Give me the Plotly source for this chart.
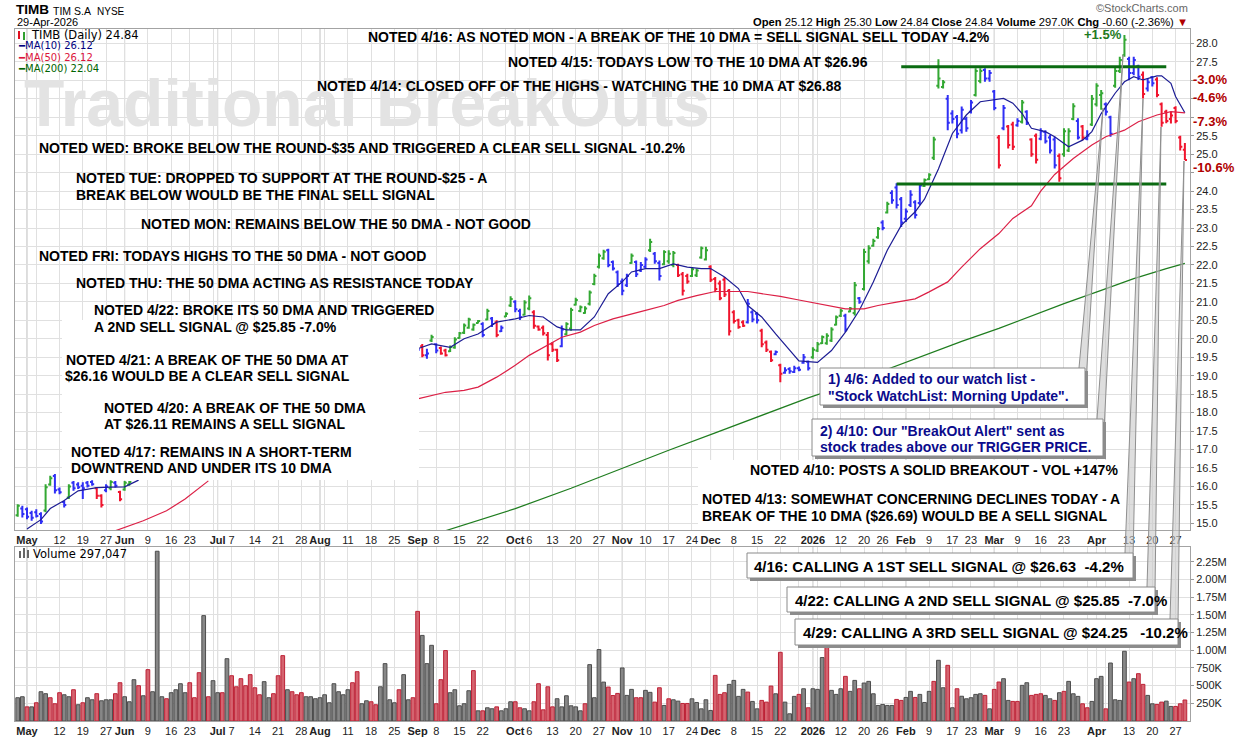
import pandas as pd
import plotly.graph_objects as go

# ---------------- calendar: the x axis runs in trading days, like StockCharts
HOLIDAYS = ['2025-05-26', '2025-06-19', '2025-07-04', '2025-09-01', '2025-11-27',
            '2025-12-25', '2026-01-01', '2026-01-19', '2026-02-16', '2026-04-03']
CAL = [d.strftime('%Y-%m-%d') for d in pd.bdate_range('2025-04-29', '2026-04-29')
       if d.strftime('%Y-%m-%d') not in HOLIDAYS]
DAY = {d: i for i, d in enumerate(CAL)}

tick_dates = ['2025-05-01', '2025-05-05', '2025-05-12', '2025-05-19', '2025-05-27',
              '2025-06-02', '2025-06-09', '2025-06-16', '2025-06-23', '2025-06-30',
              '2025-07-01', '2025-07-07', '2025-07-14', '2025-07-21', '2025-07-28',
              '2025-08-01', '2025-08-04', '2025-08-11', '2025-08-18', '2025-08-25',
              '2025-09-02', '2025-09-08', '2025-09-15', '2025-09-22', '2025-09-29',
              '2025-10-01', '2025-10-06', '2025-10-13', '2025-10-20', '2025-10-27',
              '2025-11-03', '2025-11-10', '2025-11-17', '2025-11-24',
              '2025-12-01', '2025-12-08', '2025-12-15', '2025-12-22', '2025-12-29',
              '2026-01-02', '2026-01-05', '2026-01-12', '2026-01-20', '2026-01-26',
              '2026-02-02', '2026-02-09', '2026-02-17', '2026-02-23',
              '2026-03-02', '2026-03-09', '2026-03-16', '2026-03-23', '2026-03-30',
              '2026-04-01', '2026-04-06', '2026-04-13', '2026-04-20', '2026-04-27']
tick_text = ['<b>May</b>', '', '12', '19', '27',
             '<b>Jun</b>', '9', '16', '23', '',
             '<b>Jul</b>', '7', '14', '21', '28',
             '<b>Aug</b>', '', '11', '18', '25',
             '<b>Sep</b>', '8', '15', '22', '',
             '<b>Oct</b>', '6', '13', '20', '27',
             '<b>Nov</b>', '10', '17', '24',
             '<b>Dec</b>', '8', '15', '22', '',
             '<b>2026</b>', '', '12', '20', '26',
             '<b>Feb</b>', '9', '17', '23',
             '<b>Mar</b>', '9', '16', '23', '',
             '<b>Apr</b>', '', '13', '20', '27']

# ---------------- daily bars, first visible stretch (from 29-Apr-2025)
start_a = '2025-04-29'
col_a = 'gbbbbbggbbbgbbbbbrrbgbrgg'
open_a = [15.22, 15.40, 15.38, 15.28, 15.30, 15.25, 15.35, 16.05, 16.28, 15.92, 15.58, 15.70, 16.10,
          16.05, 16.02, 16.10, 16.12, 15.95, 15.75, 15.90, 15.95, 16.10, 15.85, 15.92, 16.05]
high_a = [15.52, 15.48, 15.43, 15.34, 15.38, 15.30, 16.06, 16.29, 16.34, 15.97, 15.61, 16.06, 16.15,
          16.11, 16.11, 16.15, 16.17, 15.97, 15.79, 16.06, 16.17, 16.15, 15.88, 16.15, 16.15]
low_a = [15.18, 15.16, 15.11, 15.07, 15.16, 14.98, 15.30, 16.02, 15.81, 15.79, 15.43, 15.66, 15.88,
         15.93, 15.66, 15.97, 16.02, 15.66, 15.43, 15.84, 15.90, 15.97, 15.60, 15.88, 16.02]
close_a = [15.48, 15.25, 15.18, 15.15, 15.20, 15.05, 15.98, 16.22, 15.90, 15.84, 15.50, 16.00, 15.95,
           15.98, 15.95, 16.02, 16.06, 15.75, 15.50, 16.00, 16.12, 16.02, 15.65, 16.10, 16.12]

# ---------------- daily bars, second visible stretch (from 2-Sep-2025)
start_b = '2025-09-02'
col_b = ('brbgbrrggg' 'ggggbgbrbg' 'gbbggrrrrr' 'rbgggggggg' 'gbbbbbgbbb' 'gbbgggrrrg'
         'gggrrrrrrr' 'rbbbrrrbrb' 'bbbbbggggg' 'ggbggbgggg' 'bgbbbbbbbg' 'ggggbbbbbb'
         'ggbbbrbrrb' 'gbrrbbbbrg' 'ggbrbgggbb' 'gggbbbrbbr' 'rrrrrr')
open_b = [19.90, 19.80, 19.55, 19.95, 19.85, 19.75, 19.68, 19.66, 19.76, 20.02,
          20.16, 20.30, 20.25, 20.43, 20.40, 20.52, 20.55, 20.45, 20.20, 20.60,
          20.90, 21.00, 20.75, 20.65, 20.82, 20.72, 20.33, 20.30, 20.10, 19.85,
          19.70, 19.80, 20.12, 20.28, 20.92, 20.75, 20.70, 20.95, 21.48, 21.95,
          22.18, 22.40, 22.08, 21.80, 21.55, 21.45, 22.05, 22.08, 21.85, 21.95,
          22.40, 22.30, 22.05, 22.02, 22.10, 22.00, 22.00, 21.75, 21.70, 21.70,
          21.72, 22.20, 22.15, 21.95, 21.62, 21.50, 21.60, 21.30, 20.72, 20.50,
          20.45, 20.45, 20.72, 20.68, 20.22, 19.90, 19.65, 19.58, 19.28, 19.08,
          19.18, 19.10, 19.20, 19.35, 19.38, 19.50, 19.68, 19.88, 19.88, 19.95,
          20.38, 20.62, 20.62, 20.74, 20.70, 21.10, 21.35, 22.10, 22.52, 22.75,
          23.15, 23.42, 23.95, 24.10, 23.78, 23.25, 23.62, 23.70, 23.68, 24.14,
          24.32, 24.90, 26.85, 26.82, 26.50, 26.10, 26.00, 25.65, 25.95, 26.15,
          26.60, 26.98, 27.28, 27.05, 26.70, 25.45, 25.70, 25.75, 25.80, 25.78,
          25.88, 26.15, 25.40, 25.50, 25.42, 25.60, 25.45, 25.40, 24.95, 25.00,
          25.10, 25.95, 25.90, 25.75, 25.42, 25.80, 26.35, 26.60, 26.35, 26.00,
          26.85, 27.25, 27.68, 27.58, 27.20, 27.38, 27.15, 26.78, 27.08, 27.02,
          26.35, 26.15, 25.95, 26.25, 25.45, 25.12]
high_b = [19.95, 19.86, 19.73, 20.11, 19.88, 19.79, 19.73, 19.82, 20.04, 20.18,
          20.41, 20.57, 20.41, 20.51, 20.45, 20.81, 20.59, 20.50, 20.36, 20.72,
          21.15, 21.04, 20.81, 21.04, 21.17, 20.77, 20.36, 20.36, 20.18, 19.91,
          19.73, 20.36, 20.45, 20.84, 21.11, 20.90, 20.88, 21.31, 21.76, 22.31,
          22.41, 22.44, 22.12, 21.85, 21.63, 21.76, 22.31, 22.12, 22.08, 22.21,
          22.71, 22.35, 22.12, 22.40, 22.40, 22.38, 22.03, 21.81, 21.76, 21.94,
          21.90, 22.50, 22.49, 21.99, 21.67, 21.58, 21.67, 21.35, 20.77, 20.54,
          20.50, 21.08, 20.77, 20.72, 20.27, 19.95, 19.68, 19.68, 19.32, 19.23,
          19.23, 19.27, 19.25, 19.59, 19.41, 19.77, 19.91, 20.09, 20.15, 20.31,
          20.63, 20.81, 20.68, 20.86, 21.54, 21.13, 22.44, 22.53, 22.71, 23.03,
          23.21, 23.71, 24.02, 24.21, 23.84, 23.53, 24.02, 23.75, 24.21, 24.34,
          24.48, 25.47, 27.57, 27.01, 26.60, 26.19, 26.06, 26.29, 26.01, 26.47,
          27.33, 27.33, 27.33, 27.28, 26.74, 25.52, 26.33, 25.79, 25.88, 25.97,
          26.47, 26.19, 25.43, 25.56, 25.70, 25.65, 25.52, 25.47, 25.02, 25.70,
          25.70, 26.38, 25.97, 25.79, 25.65, 26.60, 26.92, 26.74, 26.40, 26.04,
          27.35, 27.64, 28.23, 27.64, 27.64, 27.42, 27.24, 27.05, 27.12, 27.08,
          26.40, 26.20, 26.15, 26.30, 25.50, 25.30]
low_b = [19.62, 19.50, 19.46, 19.91, 19.61, 19.57, 19.52, 19.64, 19.73, 20.00,
         20.13, 20.27, 20.22, 20.41, 20.04, 20.50, 20.32, 20.04, 20.18, 20.59,
         20.86, 20.72, 20.51, 20.63, 20.77, 20.27, 20.22, 20.09, 19.41, 19.64,
         19.37, 19.77, 20.09, 20.22, 20.90, 20.72, 20.68, 20.90, 21.45, 21.90,
         22.14, 21.94, 21.85, 21.40, 21.18, 21.40, 22.03, 21.67, 21.81, 21.90,
         22.35, 22.03, 21.58, 21.99, 22.03, 21.94, 21.67, 21.17, 21.49, 21.67,
         21.67, 22.17, 22.12, 21.54, 21.26, 21.04, 21.13, 20.09, 20.41, 20.27,
         20.32, 20.41, 20.45, 20.41, 19.77, 19.64, 19.37, 19.55, 18.82, 19.05,
         19.05, 19.07, 19.12, 19.32, 19.14, 19.46, 19.64, 19.86, 19.84, 19.91,
         20.36, 20.59, 20.18, 20.72, 20.63, 20.95, 21.31, 22.03, 22.49, 22.71,
         22.94, 23.39, 23.66, 23.53, 23.03, 23.16, 23.57, 23.26, 23.62, 24.11,
         24.30, 24.84, 26.78, 26.78, 25.65, 25.83, 25.43, 25.56, 25.61, 26.10,
         26.56, 26.92, 26.96, 26.96, 26.19, 24.61, 25.65, 25.15, 25.11, 25.74,
         25.83, 25.79, 24.93, 24.75, 25.38, 25.29, 25.02, 24.61, 24.25, 24.93,
         25.06, 25.92, 25.40, 25.38, 25.38, 25.76, 26.29, 26.20, 26.05, 25.47,
         26.80, 27.20, 27.64, 27.00, 27.14, 27.01, 26.51, 26.70, 26.83, 26.54,
         25.74, 25.84, 25.83, 25.84, 25.10, 24.84]
close_b = [19.70, 19.55, 19.60, 20.05, 19.68, 19.60, 19.55, 19.78, 19.98, 20.15,
           20.36, 20.52, 20.38, 20.48, 20.10, 20.75, 20.40, 20.10, 20.30, 20.68,
           21.08, 20.80, 20.58, 20.98, 21.10, 20.35, 20.25, 20.15, 19.55, 19.70,
           19.42, 20.25, 20.40, 20.78, 21.05, 20.85, 20.82, 21.25, 21.70, 22.25,
           22.36, 22.00, 21.90, 21.48, 21.30, 21.70, 22.25, 21.75, 22.00, 22.15,
           22.62, 22.10, 21.70, 22.35, 22.30, 22.32, 21.72, 21.30, 21.55, 21.88,
           21.85, 22.45, 22.40, 21.60, 21.35, 21.10, 21.20, 20.20, 20.48, 20.32,
           20.35, 20.95, 20.52, 20.50, 19.85, 19.70, 19.42, 19.64, 19.05, 19.15,
           19.12, 19.20, 19.16, 19.50, 19.20, 19.70, 19.85, 20.05, 20.08, 20.25,
           20.58, 20.76, 20.25, 20.82, 21.45, 21.00, 22.35, 22.45, 22.65, 22.98,
           23.00, 23.65, 23.75, 23.62, 23.15, 23.45, 23.90, 23.35, 24.15, 24.30,
           24.44, 25.40, 27.05, 26.95, 25.85, 25.95, 25.55, 26.20, 25.70, 26.40,
           27.25, 27.25, 27.05, 27.20, 26.25, 24.70, 26.25, 25.25, 25.20, 25.90,
           26.40, 25.85, 25.00, 24.85, 25.62, 25.35, 25.10, 24.70, 24.35, 25.62,
           25.62, 26.30, 25.45, 25.45, 25.50, 26.50, 26.85, 26.65, 26.15, 25.55,
           27.25, 27.55, 28.10, 27.20, 27.55, 27.10, 26.63, 26.95, 26.92, 26.60,
           25.85, 25.90, 26.05, 25.90, 25.20, 24.84]

# ---------------- moving averages (trading day number, value)
ma10_day_a = [2, 5, 7, 10, 13, 17, 20, 23, 26]
ma10_val_a = [14.85, 15.10, 15.40, 15.62, 15.88, 15.97, 15.98, 15.99, 16.17]
ma10_day_b = [86, 89, 93, 96, 99, 103, 107, 110, 113, 116, 118, 121, 124, 127, 130, 132, 135, 138,
              141, 144, 147, 149, 152, 155, 157, 160, 163, 166, 168, 172, 175, 178, 181, 184, 187,
              190, 193, 195, 198, 201, 204, 207, 210, 212, 214, 216, 218, 221, 223, 226, 229, 231,
              233, 236, 238, 240, 242, 245, 246, 248, 249, 251]
ma10_val_b = [19.73, 19.86, 19.77, 20.00, 20.13, 20.45, 20.54, 20.63, 20.59, 20.32, 20.24, 20.24,
              20.59, 21.22, 21.54, 21.81, 21.90, 21.90, 22.03, 21.94, 21.90, 21.90, 21.67, 21.36,
              20.90, 20.59, 20.13, 19.68, 19.40, 19.36, 19.68, 20.18, 20.77, 21.54, 22.40, 23.07,
              23.44, 23.78, 24.60, 25.56, 26.06, 26.42, 26.47, 26.51, 26.38, 26.10, 25.70, 25.61,
              25.47, 25.20, 25.38, 25.61, 26.10, 26.65, 26.96, 27.10, 27.01, 27.12, 27.12, 26.92,
              26.56, 26.12]
ma50_day_a = [21, 27, 32, 36, 41]
ma50_val_a = [14.80, 15.07, 15.34, 15.66, 16.15]
ma50_day_b = [86, 92, 96, 99, 103, 107, 110, 114, 117, 121, 124, 128, 132, 135, 139, 142, 146, 150,
              153, 157, 160, 164, 168, 171, 175, 178, 182, 185, 189, 193, 196, 200, 203, 207, 211,
              214, 218, 220, 223, 227, 231, 234, 238, 241, 245, 248, 251]
ma50_val_b = [18.37, 18.55, 18.60, 18.69, 18.96, 19.28, 19.55, 19.82, 20.04, 20.18, 20.36, 20.54,
              20.68, 20.77, 20.90, 21.04, 21.17, 21.28, 21.28, 21.28, 21.22, 21.15, 21.05, 20.98,
              20.90, 20.81, 20.81, 20.90, 20.99, 21.08, 21.27, 21.54, 21.94, 22.44, 22.85, 23.26,
              23.60, 24.00, 24.45, 24.88, 25.25, 25.47, 25.65, 25.88, 26.06, 26.15, 26.12]
ma200_day = [92, 107, 119, 130, 140, 150, 160, 170, 177, 192, 203, 211, 218, 225, 233, 240, 247, 251]
ma200_val = [14.80, 15.40, 15.95, 16.50, 16.98, 17.45, 17.93, 18.40, 18.70, 19.40, 19.93, 20.28,
             20.62, 20.95, 21.31, 21.63, 21.90, 22.04]

# ---------------- horizontal resistance / support lines
sr_level = [27.37, 24.19]
sr_from = ['2026-01-30', '2026-01-29']
sr_to = ['2026-04-23', '2026-04-23']

# ---------------- daily volume (thousands), g = up day, r = down day
vol_k = [329, 343, 200, 200, 258, 414, 386, 329, 244, 400,
         371, 343, 442, 230, 258, 329, 300, 386, 286, 300,
         300, 386, 541, 343, 272, 584, 499, 357, 726, 414,
         2400, 343, 315, 400, 442, 527, 400, 541, 329, 683,
         1490, 343, 570, 400, 400, 881, 640, 484, 598, 499,
         655, 470, 371, 556, 329, 386, 640, 924, 442, 414,
         371, 400, 343, 343, 315, 329, 371, 258, 527, 414,
         371, 442, 541, 697, 244, 286, 272, 230, 484, 811,
         300, 258, 442, 655, 300, 329, 1550, 1210, 811, 1070,
         244, 584, 996, 400, 442, 215, 244, 428, 712, 144,
         144, 187, 173, 200, 144, 173, 272, 272, 187, 173,
         144, 272, 527, 158, 484, 200, 315, 200, 357, 215,
         200, 144, 244, 797, 329, 1010, 550, 480, 360, 390,
         750, 362, 447, 329, 329, 433, 405, 267, 470, 220,
         314, 300, 281, 248, 248, 314, 262, 172, 300, 149,
         645, 376, 400, 518, 574, 348, 447, 409, 277, 172,
         291, 267, 494, 385, 971, 267, 102, 348, 376, 456,
         187, 456, 447, 897, 1103, 433, 376, 456, 631, 419,
         574, 456, 537, 560, 385, 220, 234, 220, 220, 305,
         291, 333, 419, 333, 376, 262, 419, 560, 858, 470,
         787, 187, 456, 350, 314, 329, 376, 385, 362, 172,
         447, 551, 598, 291, 277, 277, 504, 541, 362, 376,
         385, 362, 314, 291, 400, 419, 560, 385, 348, 243,
         187, 277, 598, 631, 172, 820, 300, 291, 986, 551,
         598, 669, 518, 362, 243, 234, 267, 281, 206, 206,
         243, 297]
vol_col = ('ggrgrggrrr' 'ggrgrggrgg' 'grrgggrgrg' 'ggrggggrrr' 'grggrgrrrr' 'rrrggrrrgr'
           'rrgggggggg' 'ggrrggrrgg' 'ggrggrrggg' 'rrrgggggrg' 'rggrgggrrg' 'grrrrrgggg'
           'ggrggggrrr' 'gggrrggrrg' 'rggrrggggg' 'rrrggggrgg' 'rrrgrgggrg' 'rgggrgggrg'
           'grgggggggr' 'rggrgggrgg' 'rgrgggggrg' 'rrggrrggrr' 'rggrgrgggr' 'rgggrggggr'
           'grrggrrggr' 'rr')

# ---------------- page geometry (pixels) -> paper coordinates
W, H = 1240, 737
ML, MR, MT, MB = 15, 50, 29, 16
PW, PH = W - ML - MR, H - MT - MB


def px(x):
    return (x - ML) / PW


def py(y):
    return (H - MB - y) / PH


BAR_COL = {'g': '#33a833', 'b': '#2f2ff5', 'r': '#f0142d'}
GRID = '#e0e0e0'
MONTH_GRID = '#b9b9b9'
BORDER = '#a3a3a3'
FONT = 'Liberation Sans, Arial, sans-serif'

fig = go.Figure()

# price bars, one OHLC trace per colour
rows = []
for start, o, h, l, c, cc in [(start_a, open_a, high_a, low_a, close_a, col_a),
                              (start_b, open_b, high_b, low_b, close_b, col_b)]:
    s = DAY[start]
    for k in range(len(o)):
        rows.append((s + k, o[k], h[k], l[k], c[k], cc[k]))
for key, colour in BAR_COL.items():
    sub = [r for r in rows if r[5] == key]
    fig.add_trace(go.Ohlc(
        x=[r[0] for r in sub], open=[r[1] for r in sub], high=[r[2] for r in sub],
        low=[r[3] for r in sub], close=[r[4] for r in sub],
        increasing=dict(line=dict(color=colour)), decreasing=dict(line=dict(color=colour)),
        line=dict(width=2), tickwidth=0.45, xaxis='x', yaxis='y', hoverinfo='skip'))

# moving averages
for da, va, db, vb, colour in [(ma10_day_a, ma10_val_a, ma10_day_b, ma10_val_b, '#1c1c94'),
                               (ma50_day_a, ma50_val_a, ma50_day_b, ma50_val_b, '#dc2046'),
                               ([], [], ma200_day, ma200_val, '#1f7d1f')]:
    xs = da + ([None] if da else []) + db
    ys = va + ([None] if va else []) + vb
    fig.add_trace(go.Scatter(x=xs, y=ys, mode='lines', line=dict(color=colour, width=1.2),
                             connectgaps=False, xaxis='x', yaxis='y', hoverinfo='skip'))

# support / resistance
for lvl, a, b in zip(sr_level, sr_from, sr_to):
    fig.add_trace(go.Scatter(x=[DAY[a], DAY[b]], y=[lvl, lvl], mode='lines',
                             line=dict(color='#0b6b12', width=3), xaxis='x', yaxis='y',
                             hoverinfo='skip'))

# volume
fig.add_trace(go.Bar(
    x=list(range(len(vol_k))), y=[v * 1000 for v in vol_k], width=0.8,
    marker=dict(color=['#878787' if c == 'g' else '#d5636f' for c in vol_col],
                line=dict(color=['#4d4d4d' if c == 'g' else '#bd2236' for c in vol_col], width=1)),
    xaxis='x2', yaxis='y2', hoverinfo='skip'))

tickvals = [DAY[d] for d in tick_dates]
price_ticks = [15 + 0.5 * k for k in range(27)]
price_text = ['' if p in (24.5, 26.0, 26.5, 27.0) else f'{p:.1f}' for p in price_ticks]
vol_ticks = [250000 * k for k in range(1, 10)]
vol_text = ['250K', '500K', '750K', '1.00M', '1.25M', '1.50M', '1.75M', '2.00M', '2.25M']

xcommon = dict(range=[-0.58, 252.1], tickvals=tickvals, ticktext=tick_text, tickangle=0,
               showgrid=True, gridcolor=GRID, gridwidth=1, zeroline=False, showline=True,
               linecolor=BORDER, mirror=True, ticks='',
               tickfont=dict(family=FONT, size=11, color='#222'),
               automargin=False, fixedrange=True)
ycommon = dict(side='right', showgrid=True, gridcolor=GRID, zeroline=False, showline=True,
               linecolor=BORDER, mirror=True, ticks='outside', ticklen=3, tickcolor='#999',
               tickfont=dict(family=FONT, size=11, color='#222'), automargin=False)

fig.update_layout(
    template='none', width=W, height=H, showlegend=False,
    margin=dict(l=ML, r=MR, t=MT, b=MB, pad=0),
    paper_bgcolor='white', plot_bgcolor='white',
    xaxis=dict(domain=[0, 1], anchor='y', rangeslider=dict(visible=False), **xcommon),
    xaxis2=dict(domain=[0, 1], anchor='y2', matches='x', **xcommon),
    yaxis=dict(domain=[py(530), 1], range=[14.82, 28.39], tickvals=price_ticks,
               ticktext=price_text, **ycommon),
    yaxis2=dict(domain=[0, py(547)], range=[0, 2460000], tickvals=vol_ticks,
                ticktext=vol_text, **ycommon),
)

shapes = []
# darker month lines
for d, t in zip(tick_dates, tick_text):
    if t.startswith('<b>'):
        for y0, y1 in [(py(530), 1), (0, py(547))]:
            shapes.append(dict(type='line', xref='x', yref='paper', x0=DAY[d], x1=DAY[d],
                               y0=y0, y1=y1, line=dict(color=MONTH_GRID, width=1), layer='between'))


def rect(x0, y0, x1, y1, fill, line=None):
    shapes.append(dict(type='rect', xref='paper', yref='paper', x0=px(x0), x1=px(x1),
                       y0=py(y1), y1=py(y0), fillcolor=fill, layer='above',
                       line=dict(color=line or fill, width=1 if line else 0)))


def pt(x, y):
    return f'{px(x):.5f},{py(y):.5f}'


# white backgrounds of the note areas
rect(62, 320, 419, 480, 'white')
rect(698, 460, 1128, 530, 'white')

# callout pointers (base corner 1, base corner 2, tip)
for b1, b2, tip in [((1079, 368), (1085, 398), (1103, 108)),
                    ((1097, 419), (1103, 450), (1123, 55)),
                    ((1125, 553), (1133, 559), (1143, 99)),
                    ((1147, 587), (1155, 593), (1161, 127)),
                    ((1170, 619), (1178, 625), (1184, 161))]:
    shapes.append(dict(type='path', xref='paper', yref='paper',
                       path=f'M {pt(*b1)} L {pt(*tip)} L {pt(*b2)} Z',
                       fillcolor='rgba(200,200,200,0.6)', line=dict(color='#8f8f8f', width=1),
                       layer='above'))

# call-out boxes with drop shadow
for x0, y0, x1, y1 in [(820, 368, 1085, 405), (812, 419, 1103, 456), (747, 553, 1133, 578),
                       (787, 587, 1155, 612), (795, 619, 1178, 645)]:
    rect(x0 + 3, y0 + 3, x1 + 3, y1 + 3, '#8c8c8c')
    rect(x0, y0, x1, y1, 'white', '#8a8a8a')

# small legend glyphs
shapes.append(dict(type='line', xref='paper', yref='paper', x0=px(19), x1=px(19), y0=py(39),
                   y1=py(31), line=dict(color='#e01020', width=2), layer='above'))
shapes.append(dict(type='line', xref='paper', yref='paper', x0=px(24), x1=px(24), y0=py(40),
                   y1=py(32), line=dict(color='#30a030', width=2), layer='above'))
for xx, top in [(19, 551), (23, 548), (27, 550)]:
    rect(xx, top, xx + 2, 558, '#666666')
fig.update_layout(shapes=shapes)

ann = []


def note(s, x, y, size=14, color='black', bold=True, xanchor='left', family=FONT):
    ann.append(dict(text=f'<b>{s}</b>' if bold else s, x=px(x), y=py(y), xref='paper',
                    yref='paper', xanchor=xanchor, yanchor='middle', showarrow=False,
                    align='left', font=dict(family=family, size=size, color=color)))


note('Traditional BreakOuts', 367, 103, size=66, color='#e3e3e3', xanchor='center')

note('TIMB', 14, 10, size=13.5)
note('TIM S.A', 51, 11, size=10.5, bold=False)
note('NYSE', 95, 11, size=10, bold=False)
note('29-Apr-2026', 15, 22.5, size=11, bold=False)
note('©StockCharts.com', 1190, 8, size=11, color='#666', bold=False, xanchor='right')
note('<b>Open</b> 25.12 <b>High</b> 25.30 <b>Low</b> 24.84 <b>Close</b> 24.84 '
     '<b>Volume</b> 297.0K <b>Chg</b> -0.60 (-2.36%) <span style="color:#b00000">▼</span>',
     1190, 22, size=11.2, bold=False, xanchor='right')

LEG = 'DejaVu Sans, Verdana, sans-serif'
note('TIMB (Daily) 24.84', 29, 35, size=11.5, bold=False, family=LEG)
note('━MA(10) 26.12', 16, 46, size=10, color='#000080', bold=False, family=LEG)
note('━MA(50) 26.12', 16, 57, size=10, color='#dc143c', bold=False, family=LEG)
note('━MA(200) 22.04', 16, 68, size=10, color='#006400', bold=False, family=LEG)
note('Volume 297,047', 31, 554, size=11.5, bold=False, family=LEG)

notes = [
    ('NOTED 4/16: AS NOTED MON - A BREAK OF THE 10 DMA = SELL SIGNAL SELL TODAY -4.2%', 366, 37),
    ('NOTED 4/15: TODAYS LOW TO THE 10 DMA AT $26.96', 506, 62),
    ('NOTED 4/14: CLOSED OFF OF THE HIGHS - WATCHING THE 10 DMA AT $26.88', 315, 86),
    ('NOTED WED: BROKE BELOW THE ROUND-$35 AND TRIGGERED A CLEAR SELL SIGNAL -10.2%', 37, 148),
    ('NOTED TUE: DROPPED TO SUPPORT AT THE ROUND-$25 - A', 74, 178),
    ('BREAK BELOW WOULD BE THE FINAL SELL SIGNAL', 74, 195),
    ('NOTED MON: REMAINS BELOW THE 50 DMA - NOT GOOD', 139, 224),
    ('NOTED FRI: TODAYS HIGHS TO THE 50 DMA - NOT GOOD', 37, 256),
    ('NOTED THU: THE 50 DMA ACTING AS RESISTANCE TODAY', 74, 283),
    ('NOTED 4/22: BROKE ITS 50 DMA AND TRIGGERED', 92, 310),
    ('A 2ND SELL SIGNAL @ $25.85 -7.0%', 92, 327),
    ('NOTED 4/21: A BREAK OF THE 50 DMA AT', 64, 360),
    ('$26.16 WOULD BE A CLEAR SELL SIGNAL', 63, 376),
    ('NOTED 4/20: A BREAK OF THE 50 DMA', 102, 408),
    ('AT $26.11 REMAINS A SELL SIGNAL', 102, 424),
    ('NOTED 4/17: REMAINS IN A SHORT-TERM', 69, 452),
    ('DOWNTREND AND UNDER ITS 10 DMA', 69, 468),
    ('NOTED 4/10: POSTS A SOLID BREAKOUT - VOL +147%', 748, 470),
    ('NOTED 4/13: SOMEWHAT CONCERNING DECLINES TODAY - A', 700, 499),
    ('BREAK OF THE 10 DMA ($26.69) WOULD BE A SELL SIGNAL', 700, 516),
]
for s, x, y in notes:
    note(s, x, y)

for s, x, y in [('1) 4/6: Added to our watch list -', 826, 379),
                ('"Stock WatchList: Morning Update".', 826, 396),
                ('2) 4/10: Our "BreakOut Alert" sent as', 818, 431),
                ('stock trades above our TRIGGER PRICE.', 818, 447)]:
    note(s, x, y, color='#0b0b8c')

for s, x, y in [('4/16: CALLING A 1ST SELL SIGNAL @ $26.63\u00a0\u00a0-4.2%', 752, 566),
                ('4/22: CALLING A 2ND SELL SIGNAL @ $25.85\u00a0\u00a0-7.0%', 793, 600),
                ('4/29: CALLING A 3RD SELL SIGNAL @ $24.25\u00a0\u00a0\u00a0-10.2%', 801, 632)]:
    note(s, x, y, size=15)

note('+1.5%', 1103, 35, size=13, color='#1e7b1e', xanchor='center')
for s, y in [('-3.0%', 79), ('-4.6%', 98), ('-7.3%', 122), ('-10.6%', 167)]:
    note(s, 1191, y, size=13, color='#b00000')

fig.update_layout(annotations=ann)
# the page body has a default 8px margin; drop it so the figure sits at the window corner
fig.write_html("out.html", config={'displayModeBar': False},
               post_script="document.body.style.margin='0';")
